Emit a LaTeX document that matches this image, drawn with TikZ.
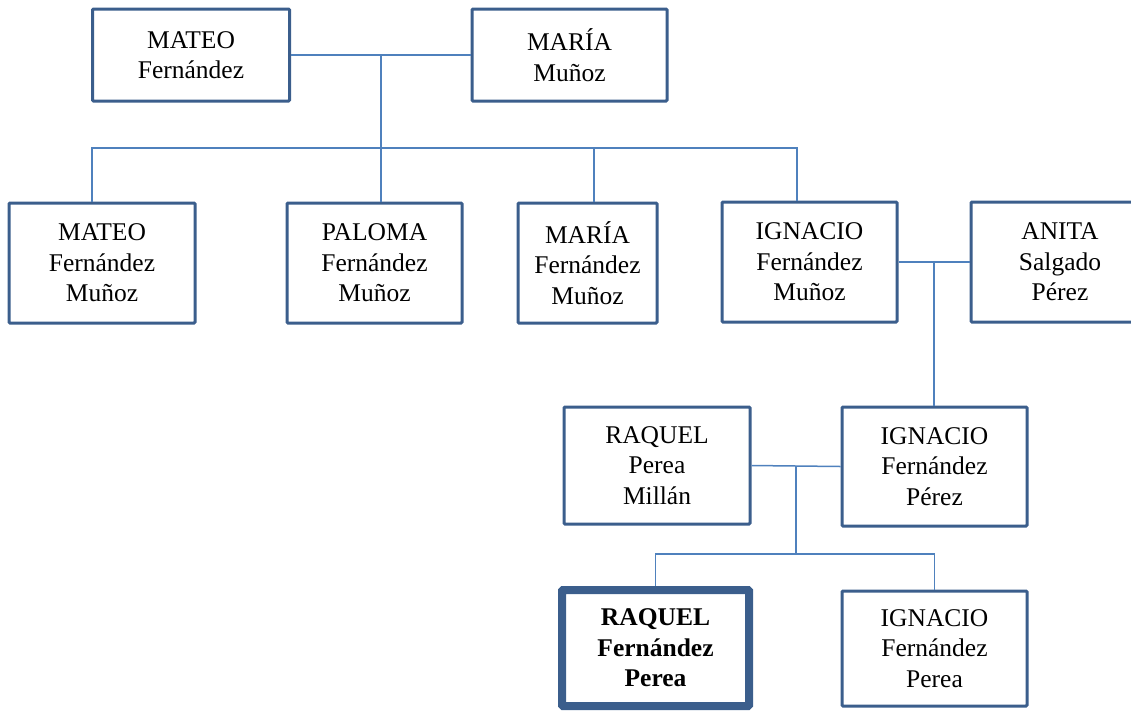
\documentclass[tikz,border=0pt]{standalone}
\usepackage{fontspec}
\setmainfont{Liberation Serif}
\usetikzlibrary{calc}
\definecolor{borde}{HTML}{3B5E8C}
\definecolor{azul}{HTML}{4F81BD}
\tikzset{
  persona/.style={draw=borde, line width=3pt, rounded corners=1pt, align=center,
    inner sep=0pt, font=\fontsize{25.5}{30.5}\selectfont},
  yo/.style={persona, line width=8pt, font=\fontsize{25.5}{30.5}\selectfont\bfseries},
  rama/.style={draw=azul, line width=1.5pt}
}

\begin{document}
\begin{tikzpicture}[x=1pt, y=-1pt]
  \useasboundingbox (0,0) rectangle (1131,710);
  % abuelos
  \node[persona, minimum width=197pt, minimum height=92pt] (mateo) at (191,55) {MATEO\\Fernández};
  \node[persona, minimum width=195pt, minimum height=92pt] (maria) at (569.5,55) {MARÍA\\Muñoz};
  % hijos
  \node[persona, minimum width=186pt, minimum height=120pt] (mateoFM) at (102,263) {MATEO\\Fernández\\Muñoz};
  \node[persona, minimum width=175pt, minimum height=120pt] (paloma) at (374.5,263) {PALOMA\\Fernández\\Muñoz};
  \node[persona, minimum width=139pt, minimum height=120pt] (mariaFM) at (587.5,263) {MARÍA\\Fernández\\Muñoz};
  \node[persona, minimum width=175pt, minimum height=120pt] (ignacioFM) at (809.5,262) {IGNACIO\\Fernández\\Muñoz};
  \node[persona, minimum width=178pt, minimum height=120pt] (anita) at (1060,262) {ANITA\\Salgado\\Pérez};
  % padres
  \node[persona, minimum width=186pt, minimum height=117pt] (raquelPM) at (657,465.5) {RAQUEL\\Perea\\Millán};
  \node[persona, minimum width=185pt, minimum height=119pt] (ignacioFP) at (934.5,466.5) {IGNACIO\\Fernández\\Pérez};
  % nietos
  \node[yo, minimum width=187pt, minimum height=116pt] (raquelFP) at (655.5,648) {RAQUEL\\Fernández\\Perea};
  \node[persona, minimum width=185pt, minimum height=115pt] (ignacioFPe) at (934.5,648.5) {IGNACIO\\Fernández\\Perea};

  % ramas
  \coordinate (m1) at ($(mateo.east)!.5!(maria.west)$);
  \coordinate (r1) at (92,148);
  \coordinate (r3) at (594,148);
  \coordinate (r4) at (797,148);
  \draw[rama] (mateo.east) -- (maria.west);
  \draw[rama] (m1) -- (m1 |- paloma.north);
  \draw[rama] (r1 |- mateoFM.north) -- (r1) -- (r4) -- (r4 |- ignacioFM.north);
  \draw[rama] (r3) -- (r3 |- mariaFM.north);

  \coordinate (m2) at ($(ignacioFM.east)!.5!(anita.west)$);
  \draw[rama] (ignacioFM.east) -- (anita.west);
  \draw[rama] (m2) -- (m2 |- ignacioFP.north);

  \coordinate (m3) at ($(raquelPM.east)!.5!(ignacioFP.west)$);
  \path (m3) ++(0,88) coordinate (h3);
  \draw[rama] (raquelPM.east) -- (ignacioFP.west);
  \draw[rama] (m3) -- (h3);
  \draw[rama] (raquelFP.north) -- (raquelFP.north |- h3) -- (ignacioFPe.north |- h3) -- (ignacioFPe.north);
\end{tikzpicture}
\end{document}
